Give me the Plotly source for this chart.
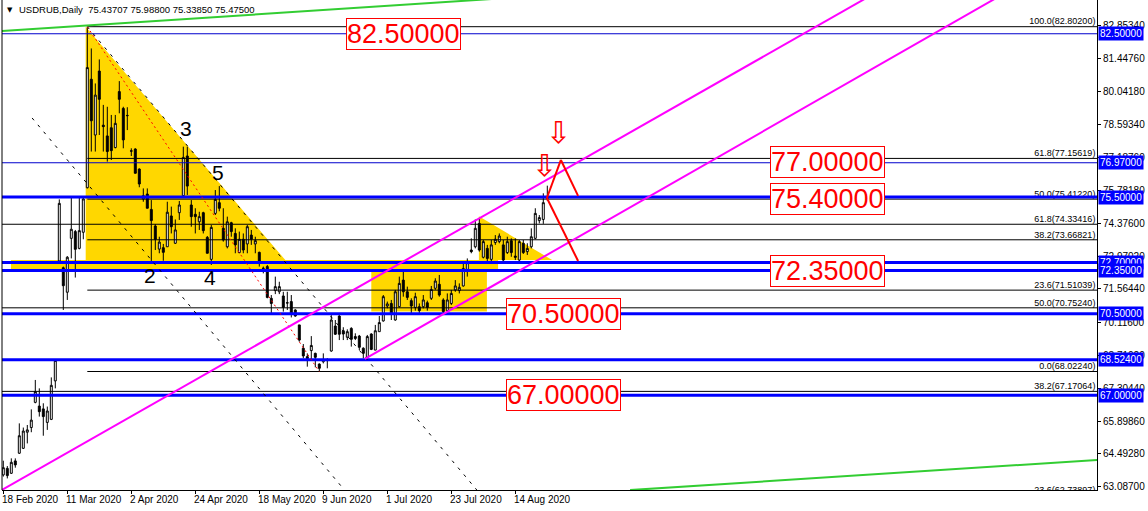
import plotly.graph_objects as go

# ---------------- data ----------------
opens = [63.59, 63.87, 63.66, 64.19, 64.52, 64.73, 65.42, 65.62, 66.70, 66.54,
         66.42, 65.84, 65.97, 67.62, 72.76, 72.47, 71.42, 73.73, 74.02, 73.30,
         73.99, 75.90, 80.55, 78.16, 80.90, 78.58, 78.12, 78.47, 77.62, 80.02,
         79.30, 79.00, 77.48, 77.56, 76.70, 75.42, 75.63, 74.97, 74.26, 73.27,
         73.33, 73.37, 74.69, 73.52, 74.83, 75.56, 77.26, 75.16, 74.76, 74.44,
         74.83, 73.77, 72.83, 74.80, 75.26, 74.16, 73.37, 74.40, 73.94, 73.12,
         73.69, 73.49, 73.87, 73.49, 73.13, 72.45, 72.52, 71.16, 71.49, 71.44,
         71.26, 70.97, 71.02, 70.66, 70.02, 69.02, 68.66, 68.92, 68.80, 68.34,
         68.44, 68.49, 68.90, 69.97, 70.40, 69.77, 69.49, 69.87, 69.52, 69.54,
         69.02, 68.63, 69.63, 68.94, 69.73, 70.19, 70.83, 70.94, 70.23, 70.80,
         71.94, 71.44, 71.06, 70.77, 70.80, 70.80, 70.97, 71.16, 71.59, 71.76,
         71.09, 70.63, 70.94, 71.52, 71.49, 71.69, 72.40, 73.23, 73.37, 74.37,
         72.92, 73.30, 72.83, 73.55, 73.59, 73.45, 73.12, 73.63, 72.97, 72.80,
         73.52, 73.16, 73.37, 73.73, 74.49, 74.54, 75.43707]
highs = [64.20, 63.97, 64.30, 64.30, 65.80, 65.62, 65.73, 66.40, 67.66, 67.30,
         66.66, 66.52, 67.77, 68.52, 75.40, 72.52, 72.97, 75.49, 74.09, 75.49,
         75.49, 82.80, 81.87, 80.37, 81.40, 79.45, 79.37, 79.02, 79.02, 80.47,
         79.37, 79.35, 77.59, 77.59, 76.73, 75.87, 75.87, 75.37, 74.34, 73.80,
         73.49, 75.30, 75.09, 74.54, 75.33, 77.66, 77.66, 75.37, 75.02, 74.87,
         74.87, 73.83, 74.30, 75.80, 75.97, 75.02, 74.66, 74.44, 74.16, 74.02,
         73.94, 74.30, 74.09, 73.80, 73.16, 72.52, 72.59, 71.30, 72.09, 71.87,
         71.44, 71.44, 71.30, 70.69, 70.02, 69.20, 68.80, 69.54, 68.83, 68.37,
         68.80, 68.59, 70.44, 70.23, 70.44, 69.92, 69.83, 69.92, 69.66, 69.59,
         69.06, 69.59, 69.66, 70.02, 70.40, 71.30, 71.02, 71.09, 71.52, 72.09,
         72.30, 71.66, 71.16, 71.40, 70.94, 71.30, 71.06, 71.69, 72.02, 72.16,
         71.16, 71.37, 71.52, 71.94, 71.80, 72.73, 72.87, 73.73, 74.54, 74.59,
         73.66, 73.45, 73.66, 73.87, 73.94, 73.66, 73.80, 73.73, 73.73, 73.66,
         73.66, 73.52, 74.16, 75.02, 74.73, 75.66, 75.98800]
lows = [63.52, 63.44, 63.63, 63.90, 64.49, 64.70, 64.94, 65.42, 66.66, 66.09,
        65.27, 65.52, 65.94, 67.30, 72.73, 70.66, 71.09, 72.87, 72.05, 73.26,
        73.69, 75.87, 77.45, 77.45, 78.16, 77.45, 77.02, 77.09, 77.59, 79.09,
        77.59, 78.37, 77.26, 76.51, 75.92, 75.30, 75.02, 72.73, 73.23, 73.09,
        72.77, 73.37, 73.94, 73.49, 74.52, 75.56, 75.59, 74.23, 73.94, 74.09,
        73.94, 73.09, 72.59, 74.73, 74.89, 73.59, 73.30, 73.80, 73.09, 73.09,
        73.09, 73.09, 73.45, 73.09, 72.52, 72.23, 71.16, 70.52, 71.34, 71.34,
        70.59, 70.66, 70.34, 70.37, 69.30, 68.59, 68.23, 68.52, 68.20, 68.02,
        68.37, 68.16, 68.87, 69.59, 69.37, 69.37, 69.37, 69.09, 69.37, 68.94,
        68.59, 68.59, 68.94, 68.94, 69.73, 70.16, 70.73, 70.23, 70.20, 70.77,
        71.23, 71.09, 70.52, 70.63, 70.52, 70.73, 70.63, 71.09, 71.52, 71.23,
        70.52, 70.54, 70.87, 71.44, 71.37, 71.66, 72.09, 73.09, 73.30, 73.16,
        72.87, 72.66, 72.66, 73.45, 73.52, 72.73, 73.06, 72.94, 72.80, 72.73,
        73.06, 73.02, 73.30, 73.69, 74.37, 74.35, 75.33850]
closes = [63.90, 63.56, 64.13, 64.02, 65.27, 65.47, 65.52, 65.94, 67.16, 66.30,
          66.09, 66.33, 67.43, 68.50, 75.23, 71.70, 72.92, 74.12, 73.26, 74.06,
          75.42, 81.05, 78.77, 79.87, 79.69, 78.52, 77.45, 77.49, 78.66, 79.69,
          77.95, 78.99, 77.47, 76.52, 76.06, 75.56, 75.02, 74.49, 73.69, 73.57,
          73.13, 74.85, 74.23, 74.09, 75.16, 77.20, 75.97, 74.66, 74.66, 74.66,
          74.06, 73.09, 74.20, 75.40, 75.02, 73.66, 74.44, 74.02, 73.45, 73.69,
          73.23, 74.23, 73.69, 73.63, 72.73, 72.44, 71.20, 70.94, 71.66, 71.66,
          70.77, 70.96, 70.49, 70.40, 69.37, 68.69, 68.57, 69.14, 68.63, 68.16,
          68.54, 68.54, 70.23, 69.62, 69.62, 69.63, 69.73, 69.40, 69.44, 69.06,
          68.80, 69.52, 68.97, 69.77, 70.12, 71.23, 70.92, 70.52, 71.44, 71.80,
          71.44, 71.20, 70.83, 71.23, 70.63, 71.09, 70.77, 71.54, 71.90, 71.30,
          70.59, 71.09, 71.37, 71.69, 71.63, 72.44, 72.69, 73.16, 74.16, 73.23,
          73.59, 72.87, 73.45, 73.69, 73.83, 72.80, 73.59, 73.12, 72.92, 73.59,
          73.12, 73.30, 73.80, 74.80, 74.62, 75.26, 75.47500]
bars = list(range(len(closes)))

date_labels = ["18 Feb 2020", "11 Mar 2020", "2 Apr 2020", "24 Apr 2020", "18 May 2020",
               "9 Jun 2020", "1 Jul 2020", "23 Jul 2020", "14 Aug 2020"]
date_bars = [0, 16, 32, 48, 64, 80, 96, 112, 128]

price_ticks = [82.85340, 81.44760, 80.04180, 78.59340, 77.18760, 75.78180, 74.37600,
               72.97020, 71.56440, 70.11600, 68.71020, 67.30440, 65.89860, 64.49280, 63.08700]

fib_levels = [82.80200, 77.15619, 75.41220, 74.33416, 73.66821, 71.51039,
              70.75240, 68.02240, 67.17064, 62.73897]
fib_pcts = ["100.0", "61.8", "50.0", "61.8", "38.2", "23.6", "50.0", "0.0", "38.2", "23.6"]
fib_from_bar = [21, 21, 21, -1, 21, 21, -1, 21, -1, 21]

blue_levels = [82.5, 76.97, 75.5, 72.7, 72.35, 70.5, 68.524, 67.0]
blue_thick = [False, False, True, True, True, True, True, True]

red_labels = [82.5, 77.0, 75.4, 72.35, 70.5, 67.0]
red_label_bars = [100, 206, 206, 206, 140, 140]

wave_labels = ["2", "3", "4", "5"]
wave_bars = [36.7, 45.7, 51.7, 53.7]
wave_prices = [72.12, 78.46, 72.07, 76.57]

# trend lines: two anchor points each (bar, price)
magenta_upper = [(0, 62.98), (136, 76.25)]
magenta_lower = [(90.4, 68.56), (136, 73.03)]
green_upper = [(0, 82.62), (107, 83.82)]
green_lower = [(156.7, 62.94), (273.4, 64.23)]
dash_a = [(7.2, 78.89), (85.3, 62.94)]
dash_b = [(21, 82.80), (118.4, 62.94)]
red_dotted = [(21, 82.80), (79, 68.02)]
zigzag_up = [(135.9, 75.46), (139.4, 77.09), (143.7, 75.55)]
zigzag_down = [(135.9, 75.46), (143.7, 72.76)]
arrows = [(138.7, 78.25), (135.4, 76.87)]

big_triangle = [(20.6, 82.80), (20.6, 72.80), (70.5, 72.80)]
small_triangle = [(118.9, 74.68), (118.9, 72.80), (137.2, 72.80)]
band = [(1.9, 72.35), (123.7, 72.80)]
box = [(92.0, 70.59), (120.9, 72.37)]

XMIN, XMAX = -0.325, 273.425
YMIN, YMAX = 62.9435, 83.9465

fig = go.Figure()

shapes = []


def ray(pts, b_from, b_to, color, width, dash=None):
    (b1, p1), (b2, p2) = pts
    k = (p2 - p1) / (b2 - b1)
    shapes.append(dict(type="line", xref="x", yref="y", layer="above",
                       x0=b_from, y0=p1 + k * (b_from - b1),
                       x1=b_to, y1=p1 + k * (b_to - b1),
                       line=dict(color=color, width=width, dash=dash)))


def poly(pts, color):
    path = "M " + " L ".join(f"{b},{p}" for b, p in pts) + " Z"
    shapes.append(dict(type="path", xref="x", yref="y", layer="below", path=path,
                       fillcolor=color, line=dict(width=0)))


GOLD = "#FFD700"
poly(big_triangle, GOLD)
poly(small_triangle, GOLD)
for r in (band, box):
    shapes.append(dict(type="rect", xref="x", yref="y", layer="below",
                       x0=r[0][0], y0=r[0][1], x1=r[1][0], y1=r[1][1],
                       fillcolor=GOLD, line=dict(width=0)))

# fib horizontal black lines
for lvl, fb in zip(fib_levels, fib_from_bar):
    shapes.append(dict(type="line", xref="x", yref="y", layer="above",
                       x0=max(fb, XMIN), x1=XMAX, y0=lvl, y1=lvl,
                       line=dict(color="black", width=1)))

# blue horizontal lines
for lvl, thick in zip(blue_levels, blue_thick):
    shapes.append(dict(type="line", xref="x", yref="y", layer="above",
                       x0=XMIN, x1=XMAX, y0=lvl, y1=lvl,
                       line=dict(color="#0000FF" if thick else "#0000CD",
                                 width=3 if thick else 1)))

ray(dash_a, dash_a[0][0], 95, "black", 1, "3px,6px")
ray(dash_b, dash_b[0][0], 125, "black", 1, "3px,6px")
ray(red_dotted, red_dotted[0][0], red_dotted[1][0], "red", 1, "2px,3px")
ray(magenta_upper, -2, 300, "#FF00FF", 2)
ray(magenta_lower, magenta_lower[0][0], 300, "#FF00FF", 2)
ray(green_upper, -2, 130, "#32CD32", 2)
ray(green_lower, green_lower[0][0], 280, "#32CD32", 2)

for seg in (zigzag_up, zigzag_down):
    for a, b in zip(seg[:-1], seg[1:]):
        shapes.append(dict(type="line", xref="x", yref="y", layer="above",
                           x0=a[0], y0=a[1], x1=b[0], y1=b[1],
                           line=dict(color="red", width=2)))

# left border
shapes.append(dict(type="line", xref="paper", yref="paper", x0=0, x1=0, y0=0, y1=1,
                   line=dict(color="black", width=1)))

fig.add_trace(go.Candlestick(
    x=bars, open=opens, high=highs, low=lows, close=closes,
    increasing=dict(line=dict(color="black", width=1), fillcolor="white"),
    decreasing=dict(line=dict(color="black", width=1), fillcolor="black"),
    whiskerwidth=0, showlegend=False, hoverinfo="skip"))

# fib labels (clipped to the plot area)
fig.add_trace(go.Scatter(
    x=[XMAX - 0.4] * len(fib_levels), y=fib_levels, mode="text",
    text=[f"{p}({v:.5f})" for p, v in zip(fib_pcts, fib_levels)],
    textposition="top left", cliponaxis=True,
    textfont=dict(family="Liberation Sans", size=9, color="black"),
    showlegend=False, hoverinfo="skip"))

annotations = []
FONT = "Liberation Sans"

annotations.append(dict(xref="paper", yref="paper", x=0.0, y=1, xanchor="left", yanchor="top",
                        xshift=3, yshift=-4, showarrow=False,
                        text="▼", font=dict(family="DejaVu Sans", size=7, color="black")))
annotations.append(dict(xref="paper", yref="paper", x=0.0, y=1, xanchor="left", yanchor="top",
                        xshift=15, yshift=-2, showarrow=False,
                        text="USDRUB,Daily  75.43707 75.98800 75.33850 75.47500",
                        font=dict(family=FONT, size=9.5, color="black")))

for lbl, b in zip(date_labels, date_bars):
    annotations.append(dict(xref="x", yref="paper", x=b, y=0, xanchor="left", yanchor="top",
                            xshift=-3, yshift=-2, showarrow=False, text=lbl,
                            font=dict(family=FONT, size=10, color="black")))

for lvl in blue_levels:
    annotations.append(dict(xref="paper", yref="y", x=1, y=lvl, xanchor="left", yanchor="middle",
                            xshift=1, showarrow=False, text=f"{lvl:.5f}",
                            bgcolor="#0000FF", borderpad=1,
                            font=dict(family=FONT, size=10, color="white")))

for lvl, b in zip(red_labels, red_label_bars):
    annotations.append(dict(xref="x", yref="y", x=b, y=lvl, xanchor="center", yanchor="middle",
                            showarrow=False, text=f"{lvl:.5f}", bgcolor="white",
                            bordercolor="red", borderwidth=1, borderpad=0,
                            font=dict(family=FONT, size=27, color="red")))

for t, b, p in zip(wave_labels, wave_bars, wave_prices):
    annotations.append(dict(xref="x", yref="y", x=b, y=p, showarrow=False, text=t,
                            font=dict(family=FONT, size=21, color="black")))

for b, p in arrows:
    annotations.append(dict(xref="x", yref="y", x=b, y=p, showarrow=False, text="⇩",
                            font=dict(family="DejaVu Sans", size=30, color="red")))

fig.update_layout(
    width=1148, height=511,
    margin=dict(l=2, r=51, t=0, b=21),
    paper_bgcolor="white", plot_bgcolor="white",
    shapes=shapes, annotations=annotations,
    showlegend=False, hovermode=False,
    xaxis=dict(range=[XMIN, XMAX], rangeslider=dict(visible=False),
               showgrid=False, zeroline=False, showline=True, linecolor="black",
               linewidth=1, ticks="outside", ticklen=3, tickcolor="black",
               tickvals=date_bars, showticklabels=False, fixedrange=True),
    yaxis=dict(range=[YMIN, YMAX], side="right", showgrid=False, zeroline=False,
               showline=True, linecolor="black", linewidth=1, ticks="outside",
               ticklen=3, tickcolor="black", tickvals=price_ticks,
               ticktext=[f"{v:.5f}" for v in price_ticks],
               tickfont=dict(family=FONT, size=10, color="black"), fixedrange=True),
)

fig.write_html("out.html", config={"displayModeBar": False},
               post_script="document.body.style.margin='0';document.body.style.overflow='hidden';")
